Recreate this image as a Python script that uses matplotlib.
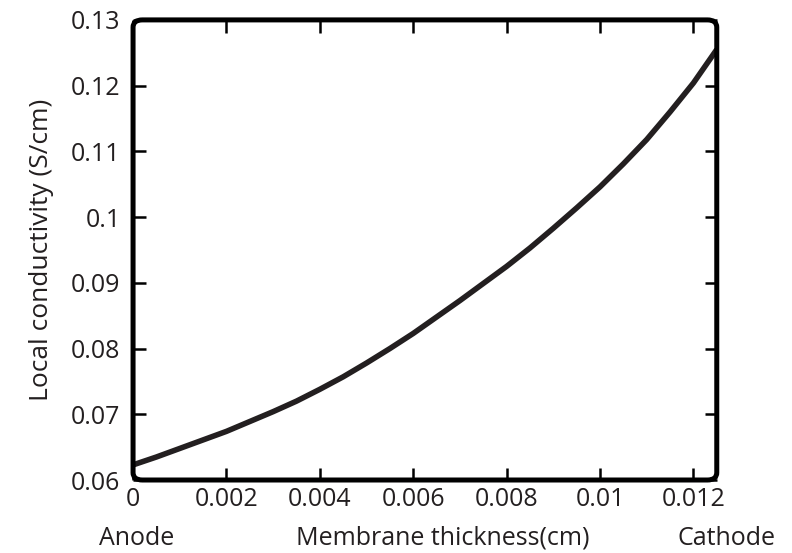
import numpy as np
import matplotlib
matplotlib.use("Agg")
import matplotlib.pyplot as plt
from matplotlib.patches import FancyBboxPatch

# membrane position (cm) and local conductivity (S/cm)
thickness = [0.0, 0.0005, 0.001, 0.0015, 0.002, 0.0025, 0.003, 0.0035,
             0.004, 0.0045, 0.005, 0.0055, 0.006, 0.0065, 0.007, 0.0075,
             0.008, 0.0085, 0.009, 0.0095, 0.010, 0.0105, 0.011, 0.0115,
             0.012, 0.0125]
conductivity = [0.0623, 0.0635, 0.0648, 0.0661, 0.0674, 0.0689, 0.0704, 0.0720,
                0.0738, 0.0757, 0.0778, 0.0800, 0.0823, 0.0848, 0.0873, 0.0899,
                0.0925, 0.0953, 0.0983, 0.1014, 0.1046, 0.1081, 0.1118, 0.1160,
                0.1204, 0.1255]

x_ticks = [0, 0.002, 0.004, 0.006, 0.008, 0.01, 0.012]
x_tick_labels = ["0", "0.002", "0.004", "0.006", "0.008", "0.01", "0.012"]
y_ticks = [0.06, 0.07, 0.08, 0.09, 0.1, 0.11, 0.12, 0.13]
y_tick_labels = ["0.06", "0.07", "0.08", "0.09", "0.1", "0.11", "0.12", "0.13"]

plt.rcParams["font.family"] = ["Open Sans", "DejaVu Sans"]
ink = "#231f20"

fig = plt.figure(figsize=(7.92, 5.53), dpi=100)
ax = fig.add_axes([0.168, 0.132, 0.737, 0.832])

ax.plot(thickness, conductivity, color=ink, lw=4.0, solid_capstyle="butt")

ax.set_xlim(0, 0.0125)
ax.set_ylim(0.06, 0.13)
ax.set_xticks(x_ticks)
ax.set_xticklabels(x_tick_labels)
ax.set_yticks(y_ticks)
ax.set_yticklabels(y_tick_labels)
ax.tick_params(direction="in", length=9, width=1.8, color="black",
               top=True, right=True, labelsize=18, labelcolor=ink)
ax.tick_params(axis="y", pad=9)
ax.tick_params(axis="x", pad=5)

# rounded frame instead of plain spines
for s in ax.spines.values():
    s.set_visible(False)
frame = FancyBboxPatch((0, 0), 1, 1, boxstyle="round,pad=0,rounding_size=0.016",
                       transform=ax.transAxes, fill=False, lw=3.6,
                       edgecolor="black", clip_on=False, zorder=5)
ax.add_patch(frame)

ax.set_ylabel("Local conductivity (S/cm)", fontsize=19, color=ink, labelpad=12)
fig.text(0.172, 0.004, "Anode", fontsize=18, color=ink, ha="center", va="bottom")
fig.text(0.559, 0.004, "Membrane thickness(cm)", fontsize=18, color=ink,
         ha="center", va="bottom")
fig.text(0.917, 0.004, "Cathode", fontsize=18, color=ink, ha="center", va="bottom")

fig.savefig("out.png", dpi=100)
